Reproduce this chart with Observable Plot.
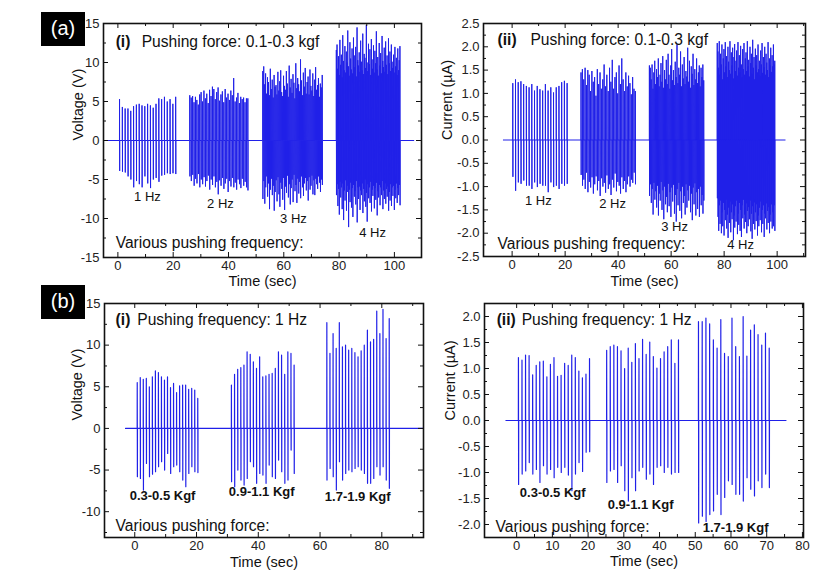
<!DOCTYPE html>
<html><head><meta charset="utf-8">
<script src="https://cdn.jsdelivr.net/npm/d3@7"></script>
<script src="https://cdn.jsdelivr.net/npm/@observablehq/plot@0.6"></script>
<style>
body{margin:0;background:#fff;}
#page{position:relative;width:831px;height:577px;overflow:hidden;background:#fff;font-family:"Liberation Sans",Arial,sans-serif;}
.panel{position:absolute;}
.panel svg{overflow:visible;background:transparent;}
.tag{position:absolute;background:#000;color:#fff;font-size:20px;width:44px;height:34px;line-height:33px;text-align:center;font-family:"Liberation Sans",Arial,sans-serif;}
</style></head><body><div id="page"></div>
<script>
// ---------- (a)(i) Voltage, pushing force 0.1-0.3 kgf, 1/2/3/4 Hz ----------
const aV_1Hz_pos = [5.3,4.3,4.1,4.1,3.8,4.4,4.6,4.7,4.5,4.4,4.7,4.5,4.2,4.7,5.4,5.3,5.6,5.0,5.3,4.7,5.6];
const aV_1Hz_neg = [-3.9,-4.0,-4.1,-4.6,-5.0,-6.0,-5.2,-5.6,-6.0,-4.6,-5.5,-6.1,-5.0,-4.8,-5.3,-4.5,-4.4,-4.2,-4.3,-4.2,-4.3];
const aV_2Hz_pos = [5.8,5.5,5.7,4.9,5.6,5.2,4.6,5.9,6.2,5.0,6.4,5.4,6.0,4.8,6.5,5.7,6.9,6.6,5.3,6.2,6.8,5.1,5.9,6.3,4.9,6.6,5.5,6.0,5.2,6.4,5.8,8.0,5.0,5.5,6.1,4.8,5.6,5.3,5.5,4.9,5.4,5.4];
const aV_2Hz_neg = [-4.6,-5.2,-4.4,-5.8,-4.9,-5.5,-4.3,-6.0,-5.0,-5.6,-4.7,-5.9,-5.2,-4.5,-6.3,-5.0,-5.7,-4.6,-6.0,-5.3,-6.9,-5.1,-5.8,-4.8,-6.2,-5.5,-4.9,-6.6,-5.2,-5.9,-4.8,-6.0,-5.4,-6.3,-5.0,-5.6,-6.1,-4.9,-5.8,-5.3,-6.0,-6.4];
const aV_3Hz_pos = [8.9,9.5,7.2,8.6,6.0,8.1,7.5,5.8,9.2,6.6,7.8,5.5,8.4,6.9,7.1,5.9,8.8,6.4,7.6,9.0,6.2,5.7,8.3,7.0,6.5,8.9,7.3,5.6,9.6,6.8,7.9,6.1,8.5,7.4,5.4,9.9,6.7,8.0,7.2,6.3,10.4,7.7,5.8,8.7,6.9,9.3,6.0,7.5,8.2,5.9,9.1,7.0,6.4,8.6,5.7,7.8,9.4,6.5,7.1,8.0,5.6,7.3,6.8,8.4];
const aV_3Hz_neg = [-7.5,-5.2,-8.1,-6.0,-4.6,-7.2,-5.5,-8.8,-6.3,-4.9,-7.0,-5.8,-9.0,-6.6,-5.1,-7.8,-4.7,-6.9,-8.5,-5.4,-6.2,-7.6,-4.8,-8.9,-5.9,-6.7,-4.5,-7.3,-5.6,-8.2,-6.1,-5.0,-7.9,-4.4,-6.5,-5.7,-8.0,-4.9,-6.8,-5.3,-7.4,-4.6,-6.0,-7.1,-5.5,-4.8,-6.4,-5.2,-7.7,-4.7,-6.3,-5.8,-4.5,-6.9,-5.1,-7.0,-4.9,-5.6,-6.2,-4.6,-5.4,-6.6,-5.0,-5.7];
const aV_4Hz_pos = [11.6,12.3,9.2,10.8,8.4,12.9,9.7,11.0,8.1,13.5,10.2,9.0,12.1,8.7,11.4,10.0,14.1,9.5,8.3,12.6,10.5,9.1,11.8,8.6,13.2,10.9,9.4,12.0,8.2,14.5,10.3,9.6,11.3,8.8,12.8,10.1,9.0,13.7,8.5,11.1,10.6,9.3,14.8,10.0,8.9,12.4,9.8,11.7,8.4,13.0,10.4,9.2,12.2,8.7,11.5,9.9,14.0,9.1,10.7,8.3,12.5,9.6,11.2,8.6,13.4,10.2,9.4,11.9,8.8,12.7,9.7,10.9,8.5,13.1,9.9,11.4,8.9,12.3,10.1,9.3,11.0,8.7,12.0,9.5,10.6,8.4,11.8,9.0,10.3,12.1];
const aV_4Hz_neg = [-7.0,-5.6,-8.4,-6.2,-9.5,-5.3,-7.3,-6.0,-8.8,-5.5,-10.2,-6.4,-7.7,-5.1,-9.0,-6.6,-5.8,-11.1,-6.3,-7.9,-5.4,-8.6,-6.1,-9.8,-5.7,-7.2,-6.5,-8.2,-5.2,-10.5,-6.0,-7.5,-5.9,-8.9,-6.4,-7.0,-5.5,-9.3,-6.2,-7.8,-5.0,-8.5,-6.7,-10.4,-5.6,-7.4,-6.0,-8.0,-5.3,-9.1,-6.3,-7.1,-5.8,-8.7,-6.1,-7.6,-5.4,-9.6,-6.5,-7.3,-5.7,-8.3,-6.0,-7.0,-5.2,-8.8,-6.4,-7.5,-5.5,-8.1,-6.2,-7.2,-5.9,-9.0,-6.6,-7.7,-5.6,-8.4,-6.0,-7.1,-5.8,-8.9,-6.3,-7.4,-5.5,-8.0,-6.1,-7.0,-5.7,-8.3];
const aV_bursts = [[0.6,20.9],[26,47],[52.4,73.9],[79,102]];

// ---------- (a)(ii) Current ----------
const aI_1Hz_pos = [1.22,1.30,1.24,1.26,1.20,1.16,1.13,1.20,1.06,1.16,1.09,1.06,1.20,1.06,1.13,1.02,1.13,1.16,1.24,1.27,1.22];
const aI_1Hz_neg = [-0.79,-1.09,-0.91,-0.94,-0.87,-0.98,-0.98,-1.05,-0.91,-1.01,-0.94,-0.98,-0.98,-1.12,-0.91,-1.01,-0.98,-1.05,-0.94,-0.98,-0.94];
const aI_2Hz_pos = [1.45,1.52,1.30,1.55,1.18,1.50,1.40,1.05,1.48,1.25,1.35,0.95,1.52,1.20,1.45,1.10,1.30,1.62,1.15,1.40,1.05,1.55,1.25,1.72,1.10,1.35,1.45,1.00,1.60,1.20,1.75,1.30,1.05,1.45,1.15,1.38,1.22,0.98,1.35,1.10,1.05];
const aI_2Hz_neg = [-0.75,-0.98,-0.85,-1.05,-0.70,-1.12,-0.90,-1.02,-0.80,-1.15,-0.95,-0.78,-1.08,-0.88,-1.20,-0.82,-1.00,-0.92,-1.13,-0.76,-1.05,-0.95,-1.18,-0.85,-1.02,-0.72,-1.10,-0.90,-0.98,-1.15,-0.80,-1.05,-0.88,-1.12,-0.95,-0.78,-1.00,-0.85,-0.92,-0.70,-0.95];
const aI_3Hz_pos = [1.60,1.55,1.30,1.62,1.10,1.45,1.70,1.20,1.52,1.35,1.75,1.15,1.40,1.65,1.25,1.80,1.12,1.50,1.30,1.72,1.20,1.85,1.40,1.10,1.60,1.95,1.28,1.50,1.18,1.68,1.35,2.05,1.22,1.55,1.40,1.90,1.15,1.62,1.32,1.78,1.20,1.48,1.36,1.98,1.25,1.70,1.12,1.58,1.42,1.85,1.18,1.52,1.30,1.75,1.22,1.45,1.60,1.15,1.55,1.35,1.62,1.28];
const aI_3Hz_neg = [-1.20,-0.95,-1.35,-1.05,-1.60,-0.92,-1.28,-1.10,-1.45,-0.98,-1.62,-1.15,-1.30,-0.90,-1.50,-1.08,-1.70,-1.00,-1.38,-1.22,-1.55,-0.94,-1.42,-1.12,-1.65,-1.02,-1.32,-0.96,-1.58,-1.18,-1.75,-1.05,-1.40,-0.92,-1.52,-1.10,-1.68,-1.00,-1.35,-1.20,-1.60,-0.95,-1.45,-1.08,-1.30,-0.98,-1.55,-1.15,-1.72,-1.02,-1.38,-0.93,-1.62,-1.12,-1.48,-1.05,-1.65,-1.00,-1.40,-1.18,-1.58,-1.30];
const aI_4Hz_pos = [2.08,1.90,1.55,2.12,1.40,1.85,1.62,2.05,1.30,1.75,1.95,1.45,2.10,1.58,1.80,1.35,2.00,1.68,1.50,2.12,1.42,1.88,1.60,1.98,1.32,1.78,2.06,1.48,1.70,1.92,1.38,2.10,1.55,1.82,1.45,2.02,1.62,1.35,1.95,1.52,2.08,1.40,1.75,1.88,1.48,2.12,1.58,1.72,1.36,2.00,1.65,1.85,1.42,2.15,1.55,1.78,1.30,1.96,1.60,1.82,1.45,2.05,1.52,1.70,1.38,1.92,1.62,2.08,1.44,1.78,1.56,2.00,1.40,1.85,1.66,1.50,2.10,1.35,1.75,1.60,1.98,1.46,1.82,1.58,2.05,1.62,1.70];
const aI_4Hz_neg = [-1.25,-1.65,-1.95,-1.40,-1.80,-1.30,-2.00,-1.55,-1.85,-1.35,-2.05,-1.50,-1.72,-1.28,-1.90,-1.60,-2.10,-1.45,-1.78,-1.32,-1.98,-1.55,-1.70,-1.38,-2.15,-1.62,-1.88,-1.42,-1.75,-1.30,-2.02,-1.58,-1.82,-1.35,-1.95,-1.50,-2.08,-1.40,-1.68,-1.28,-1.90,-1.60,-1.76,-1.36,-2.00,-1.52,-1.85,-1.44,-1.70,-1.30,-1.96,-1.58,-2.12,-1.42,-1.80,-1.34,-1.92,-1.55,-1.74,-1.38,-2.05,-1.62,-1.85,-1.45,-1.72,-1.32,-1.98,-1.50,-1.80,-1.40,-2.08,-1.58,-1.68,-1.36,-1.92,-1.52,-1.78,-1.44,-2.00,-1.60,-1.75,-1.38,-1.90,-1.55,-1.85,-1.40,-1.95];
const aI_bursts = [[0.25,20.75],[26,46.5],[51.8,72.3],[77.4,99.1]];

// ---------- (b)(i) Voltage, 1 Hz, various force ----------
const bV_f1_pos = [5.5,6.1,5.9,6.0,5.0,6.2,6.9,6.7,6.2,5.8,6.2,4.9,5.4,4.3,5.1,5.2,5.2,4.7,4.8,4.6,3.6];
const bV_f1_neg = [-5.8,-6.0,-7.4,-4.2,-5.8,-5.5,-5.2,-4.6,-4.0,-5.0,-3.0,-5.4,-4.6,-4.4,-5.2,-6.2,-7.0,-5.4,-4.6,-5.2,-5.3];
const bV_f2_pos = [5.2,6.5,7.1,7.3,7.6,9.2,8.9,8.0,7.2,8.6,6.2,6.3,6.5,6.6,7.2,9.2,8.8,6.5,9.2,9.0,7.6];
const bV_f2_neg = [-6.4,-7.0,-5.0,-6.2,-6.8,-6.0,-4.0,-4.6,-6.6,-5.4,-5.6,-6.6,-4.4,-5.8,-6.0,-3.8,-5.2,-6.6,-6.2,-2.6,-5.4];
const bV_f3_pos = [12.7,9.0,11.4,9.6,12.7,9.8,10.0,9.4,9.6,9.1,8.6,9.3,10.0,11.8,10.4,10.7,14.1,11.4,14.3,10.8,13.2];
const bV_f3_neg = [-6.2,-4.8,-5.8,-7.4,-4.0,-6.2,-5.4,-5.0,-5.2,-4.8,-4.6,-5.0,-5.4,-6.6,-6.6,-6.0,-4.6,-5.6,-4.6,-6.2,-7.2];
const bV_bursts = [[0.8,20.4],[31.3,51.6],[62.2,82.4]];

// ---------- (b)(ii) Current, 1 Hz, various force ----------
const bI_f1_pos = [1.21,1.16,1.26,1.25,0.88,1.06,1.13,1.14,0.84,1.08,1.21,0.85,0.87,1.10,1.06,1.26,1.21,0.95,0.82,0.89,1.19];
const bI_f1_neg = [-1.23,-1.03,-0.97,-0.81,-1.03,-0.94,-1.19,-0.87,-1.03,-0.94,-1.10,-0.90,-1.00,-0.90,-1.05,-1.35,-1.03,-0.81,-0.98,-0.61,-0.60];
const bI_f2_pos = [1.35,1.42,1.45,1.42,1.34,1.00,1.39,1.12,1.48,1.19,1.56,1.27,1.51,1.23,1.01,1.19,1.32,1.42,1.55,1.10,1.55];
const bI_f2_neg = [-1.19,-0.97,-0.94,-1.19,-0.87,-1.35,-1.55,-1.10,-1.35,-0.97,-0.90,-1.13,-1.03,-1.23,-0.90,-0.87,-1.00,-0.90,-1.03,-1.00,-1.00];
const bI_f3_pos = [1.90,1.90,1.97,1.86,1.55,1.39,1.94,1.29,1.23,1.97,1.42,1.23,2.00,1.24,1.74,1.84,1.65,1.45,1.68,1.39];
const bI_f3_neg = [-1.97,-1.84,-1.94,-1.81,-1.74,-1.42,-1.81,-1.48,-1.16,-1.23,-1.42,-1.42,-1.55,-1.10,-1.32,-1.45,-1.16,-1.29,-1.03,-1.29];
const bI_bursts = [[0.5,20.4],[25.2,45.3],[50.9,70.7]];

// ---------- labels ----------
const freqLabels = ["1 Hz","2 Hz","3 Hz","4 Hz"];
const forceLabels = ["0.3-0.5 Kgf","0.9-1.1 Kgf","1.7-1.9 Kgf"];

const BLUE = "#2020e8";
const FONT = "Liberation Sans, Arial, sans-serif";

function waveform(base, bursts) {
  const ev = [];
  for (const b of bursts) {
    for (const arr of [b.pos, b.neg]) {
      const n = arr.length, step = (b.t1 - b.t0) / (n - 1);
      arr.forEach((v, i) => ev.push({t: b.t0 + i * step + (v < 0 ? 0.05 : 0), v}));
    }
  }
  ev.sort((a, b) => a.t - b.t);
  const pts = [{t: base[0], v: 0}];
  for (const e of ev) pts.push({t: e.t - 0.02, v: 0}, {t: e.t, v: e.v}, {t: e.t + 0.02, v: 0});
  pts.push({t: base[1], v: 0});
  return pts;
}

function range(a, b, s) { const r = []; for (let v = a; v <= b + 1e-9; v += s) r.push(+v.toFixed(3)); return r; }

function panel(c) {
  const ih = c.height - c.mt - c.mb, iw = c.width - c.ml - c.mr;
  const wave = waveform(c.base, c.bursts);
  const k = "#111";
  const marks = [
    Plot.line(wave, {x: "t", y: "v", stroke: BLUE, strokeWidth: c.sw}),
    Plot.tickX(c.xMajor, {x: d => d, insetTop: ih - 5, stroke: k}),
    Plot.tickX(c.xMajor, {x: d => d, insetBottom: ih - 5, stroke: k}),
    Plot.tickX(c.xMinor, {x: d => d, insetTop: ih - 3, stroke: k}),
    Plot.tickX(c.xMinor, {x: d => d, insetBottom: ih - 3, stroke: k}),
    Plot.tickY(c.yMajor, {y: d => d, insetRight: iw - 5, stroke: k}),
    Plot.tickY(c.yMajor, {y: d => d, insetLeft: iw - 5, stroke: k}),
    Plot.tickY(c.yMinor, {y: d => d, insetRight: iw - 3, stroke: k}),
    Plot.tickY(c.yMinor, {y: d => d, insetLeft: iw - 3, stroke: k}),
    Plot.frame({stroke: k, strokeWidth: 1.6}),
    Plot.axisX(c.xMajor, {tickSize: 0, tickPadding: 3, tickFormat: d => String(d), label: null, fontSize: 13}),
    Plot.axisY(c.yMajor, {tickSize: 0, tickPadding: 4, tickFormat: c.yFmt, label: null, fontSize: 13}),
    Plot.text([c.xTitle], {frameAnchor: "bottom", dy: c.xTitleDy, fontSize: 14.5, fill: "#111"}),
    Plot.text([c.yTitle], {frameAnchor: "left", dx: c.yTitleDx, rotate: -90, fontSize: 14.5, fill: "#111"}),
    Plot.text([c.tag], {x: c.tagPos[0], y: c.tagPos[1], textAnchor: "start", fontWeight: "bold", fontSize: 15.6, fill: "#111"}),
    Plot.text([c.title], {x: c.titlePos[0], y: c.titlePos[1], textAnchor: "start", fontSize: 15.6, fill: "#111"}),
    Plot.text([c.foot], {x: c.footPos[0], y: c.footPos[1], textAnchor: "start", fontSize: 15.6, fill: "#111"}),
    Plot.text(c.labels, {x: (d, i) => c.labelPos[i][0], y: (d, i) => c.labelPos[i][1], text: d => d,
      fontSize: 13, fontWeight: c.labelWeight, fill: "#111"})
  ];
  const el = Plot.plot({
    width: c.width, height: c.height,
    marginLeft: c.ml, marginRight: c.mr, marginTop: c.mt, marginBottom: c.mb,
    x: {domain: c.xDomain}, y: {domain: c.yDomain},
    style: {fontFamily: FONT, fontSize: "13px", color: "#222", background: "transparent", overflow: "visible"},
    marks
  });
  const div = document.createElement("div");
  div.className = "panel";
  div.style.left = c.left + "px"; div.style.top = c.top + "px";
  div.appendChild(el);
  document.getElementById("page").appendChild(div);
}

const f1 = d => d.toFixed(1);
const fi = d => String(d);

panel({
  left: 0, top: 0, width: 440, height: 300, ml: 103, mr: 19, mt: 23, mb: 43,
  xDomain: [-5.2, 109.8], yDomain: [-15, 15],
  xMajor: range(0, 100, 20), xMinor: range(10, 100, 20), yMajor: range(-15, 15, 5), yMinor: range(-12.5, 12.5, 5),
  yFmt: fi, base: [-5, 107], sw: 1.0,
  bursts: [
    {t0: aV_bursts[0][0], t1: aV_bursts[0][1], pos: aV_1Hz_pos, neg: aV_1Hz_neg},
    {t0: aV_bursts[1][0], t1: aV_bursts[1][1], pos: aV_2Hz_pos, neg: aV_2Hz_neg},
    {t0: aV_bursts[2][0], t1: aV_bursts[2][1], pos: aV_3Hz_pos, neg: aV_3Hz_neg},
    {t0: aV_bursts[3][0], t1: aV_bursts[3][1], pos: aV_4Hz_pos, neg: aV_4Hz_neg}],
  xTitle: "Time (sec)", xTitleDy: 28, yTitle: "Voltage (V)", yTitleDx: -25,
  tag: "(i)", tagPos: [-0.8, 12.6], title: "Pushing force: 0.1-0.3 kgf", titlePos: [8.6, 12.6],
  foot: "Various pushing frequency:", footPos: [-0.8, -13.2],
  labels: freqLabels, labelPos: [[10.7, -7.2], [37.1, -8.1], [63.5, -10.1], [92.1, -11.8]], labelWeight: "normal"
});

panel({
  left: 420, top: 0, width: 411, height: 300, ml: 63, mr: 26, mt: 23, mb: 44,
  xDomain: [-10.8, 110.7], yDomain: [-2.5, 2.5],
  xMajor: range(0, 100, 20), xMinor: range(10, 110, 20), yMajor: range(-2.5, 2.5, 0.5), yMinor: range(-2.25, 2.25, 0.5),
  yFmt: f1, base: [-3.3, 103], sw: 1.0,
  bursts: [
    {t0: aI_bursts[0][0], t1: aI_bursts[0][1], pos: aI_1Hz_pos, neg: aI_1Hz_neg},
    {t0: aI_bursts[1][0], t1: aI_bursts[1][1], pos: aI_2Hz_pos, neg: aI_2Hz_neg},
    {t0: aI_bursts[2][0], t1: aI_bursts[2][1], pos: aI_3Hz_pos, neg: aI_3Hz_neg},
    {t0: aI_bursts[3][0], t1: aI_bursts[3][1], pos: aI_4Hz_pos, neg: aI_4Hz_neg}],
  xTitle: "Time (sec)", xTitleDy: 29, yTitle: "Current (µA)", yTitleDx: -36,
  tag: "(ii)", tagPos: [-5.5, 2.14], title: "Pushing force: 0.1-0.3 kgf", titlePos: [6.9, 2.14],
  foot: "Various pushing frequency:", footPos: [-5.5, -2.24],
  labels: freqLabels, labelPos: [[9.9, -1.30], [37.9, -1.38], [61.3, -1.86], [86.2, -2.24]], labelWeight: "normal"
});

panel({
  left: 0, top: 280, width: 440, height: 297, ml: 104, mr: 17, mt: 23, mb: 40,
  xDomain: [-9.8, 93.5], yDomain: [-13.1, 15],
  xMajor: range(0, 80, 20), xMinor: range(10, 90, 20), yMajor: range(-10, 15, 5), yMinor: range(-12.5, 12.5, 5),
  yFmt: fi, base: [-3, 93.5], sw: 1.2,
  bursts: [
    {t0: bV_bursts[0][0], t1: bV_bursts[0][1], pos: bV_f1_pos, neg: bV_f1_neg},
    {t0: bV_bursts[1][0], t1: bV_bursts[1][1], pos: bV_f2_pos, neg: bV_f2_neg},
    {t0: bV_bursts[2][0], t1: bV_bursts[2][1], pos: bV_f3_pos, neg: bV_f3_neg}],
  xTitle: "Time (sec)", xTitleDy: 29, yTitle: "Voltage (V)", yTitleDx: -27,
  tag: "(i)", tagPos: [-6.2, 13.0], title: "Pushing frequency: 1 Hz", titlePos: [0.8, 13.0],
  foot: "Various pushing force:", footPos: [-6.2, -11.7],
  labels: forceLabels, labelPos: [[9.0, -8.1], [41.1, -7.6], [72.2, -8.2]], labelWeight: "bold"
});

panel({
  left: 420, top: 280, width: 411, height: 297, ml: 64, mr: 28, mt: 23, mb: 40,
  xDomain: [-9, 80.3], yDomain: [-2.25, 2.25],
  xMajor: range(0, 80, 10), xMinor: range(5, 75, 10), yMajor: range(-2, 2, 0.5), yMinor: range(-2.25, 2.25, 0.5),
  yFmt: f1, base: [-3, 75.4], sw: 1.2,
  bursts: [
    {t0: bI_bursts[0][0], t1: bI_bursts[0][1], pos: bI_f1_pos, neg: bI_f1_neg},
    {t0: bI_bursts[1][0], t1: bI_bursts[1][1], pos: bI_f2_pos, neg: bI_f2_neg},
    {t0: bI_bursts[2][0], t1: bI_bursts[2][1], pos: bI_f3_pos, neg: bI_f3_neg}],
  xTitle: "Time (sec)", xTitleDy: 28, yTitle: "Current (µA)", yTitleDx: -34,
  tag: "(ii)", tagPos: [-5.6, 1.93], title: "Pushing frequency: 1 Hz", titlePos: [1.4, 1.93],
  foot: "Various pushing force:", footPos: [-5.9, -2.05],
  labels: forceLabels, labelPos: [[10.1, -1.39], [34.7, -1.62], [61.3, -2.07]], labelWeight: "bold"
});

// panel tags
for (const [txt, top] of [["(a)", 12], ["(b)", 285]]) {
  const t = document.createElement("div");
  t.className = "tag"; t.textContent = txt;
  t.style.left = "41px"; t.style.top = top + "px";
  document.getElementById("page").appendChild(t);
}
</script>
</body></html>
